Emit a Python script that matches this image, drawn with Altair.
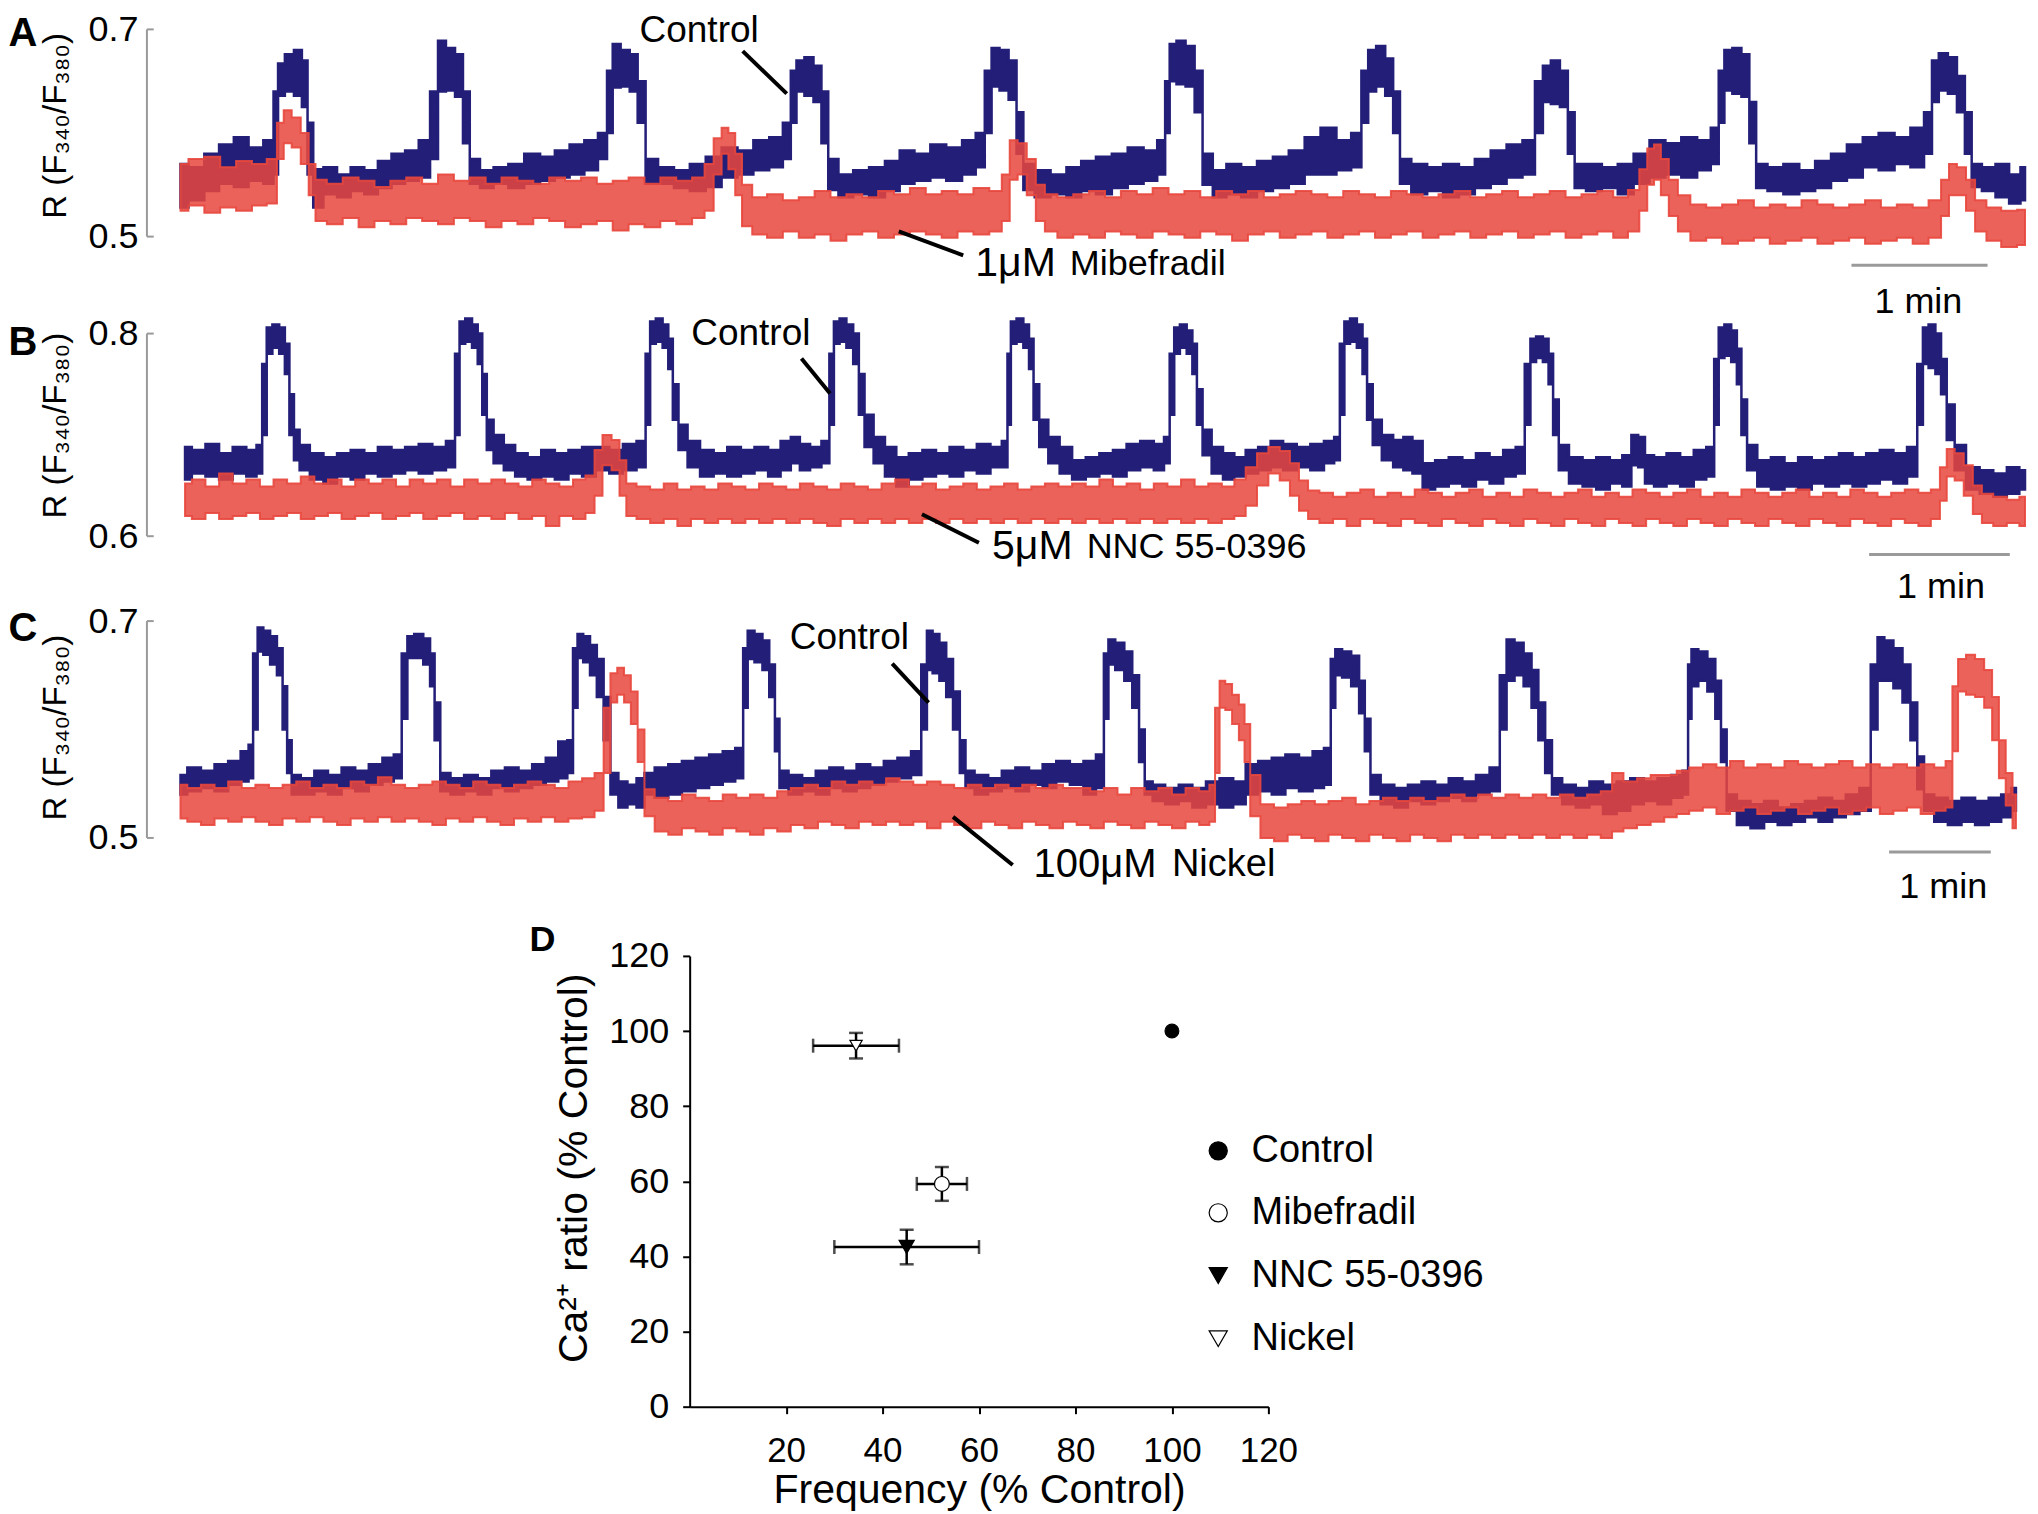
import altair as alt
import pandas as pd

FONT = "Liberation Sans"
BLUE = "#231e78"
RED = "#e8473d"
GREY = "#9a9a9a"

T_MIN, T_MAX = -14.8, 813.0
PANEL_W = 1879

# ---------------- traces: (time s, lower envelope, upper envelope) ----------------
A_BLUE = [
    (0, 0.528, 0.570), (7, 0.535, 0.567), (14, 0.544, 0.580), (20, 0.551, 0.589), (27, 0.548, 0.596),
    (33, 0.554, 0.586), (40, 0.551, 0.593), (42, 0.560, 0.640), (44, 0.636, 0.667), (48, 0.640, 0.676),
    (52, 0.636, 0.680), (55, 0.625, 0.670), (57, 0.560, 0.610), (60, 0.528, 0.565), (66, 0.541, 0.567),
    (72, 0.538, 0.560), (78, 0.544, 0.567), (84, 0.541, 0.564), (90, 0.547, 0.573), (96, 0.551, 0.580),
    (102, 0.554, 0.583), (108, 0.557, 0.593), (112, 0.575, 0.640), (115, 0.640, 0.689), (119, 0.641, 0.682),
    (123, 0.635, 0.676), (126, 0.590, 0.640), (129, 0.551, 0.575), (135, 0.547, 0.564), (141, 0.551, 0.567),
    (148, 0.547, 0.570), (155, 0.551, 0.580), (162, 0.554, 0.577), (168, 0.557, 0.583), (175, 0.560, 0.589),
    (181, 0.564, 0.593), (187, 0.575, 0.600), (189, 0.600, 0.660), (192, 0.644, 0.686), (196, 0.645, 0.680),
    (200, 0.640, 0.676), (203, 0.610, 0.650), (207, 0.551, 0.575), (214, 0.551, 0.567), (221, 0.547, 0.564),
    (228, 0.544, 0.570), (235, 0.548, 0.577), (242, 0.557, 0.586), (249, 0.560, 0.583), (256, 0.564, 0.593),
    (263, 0.567, 0.596), (268, 0.575, 0.610), (270, 0.610, 0.660), (273, 0.640, 0.670), (277, 0.636, 0.673),
    (281, 0.630, 0.665), (284, 0.590, 0.640), (287, 0.545, 0.575), (293, 0.538, 0.560), (300, 0.541, 0.564),
    (307, 0.538, 0.567), (314, 0.544, 0.573), (320, 0.551, 0.583), (327, 0.554, 0.580), (334, 0.557, 0.589),
    (341, 0.554, 0.586), (348, 0.560, 0.593), (353, 0.567, 0.600), (356, 0.600, 0.660), (359, 0.645, 0.682),
    (363, 0.641, 0.680), (367, 0.632, 0.670), (370, 0.580, 0.620), (373, 0.545, 0.570), (380, 0.538, 0.564),
    (387, 0.541, 0.560), (394, 0.538, 0.567), (400, 0.544, 0.573), (407, 0.541, 0.577), (414, 0.547, 0.580),
    (421, 0.551, 0.586), (428, 0.554, 0.583), (433, 0.560, 0.593), (435, 0.600, 0.650), (437, 0.650, 0.686),
    (441, 0.647, 0.689), (445, 0.645, 0.684), (449, 0.620, 0.660), (452, 0.550, 0.580), (458, 0.538, 0.564),
    (464, 0.541, 0.570), (471, 0.538, 0.567), (478, 0.544, 0.573), (485, 0.547, 0.577), (492, 0.551, 0.583),
    (499, 0.560, 0.596), (506, 0.560, 0.605), (513, 0.564, 0.593), (519, 0.567, 0.600), (522, 0.610, 0.660),
    (525, 0.640, 0.680), (529, 0.645, 0.684), (533, 0.636, 0.672), (536, 0.600, 0.640), (539, 0.551, 0.575),
    (546, 0.541, 0.570), (553, 0.544, 0.567), (560, 0.538, 0.570), (567, 0.541, 0.567), (574, 0.547, 0.575),
    (581, 0.551, 0.583), (588, 0.557, 0.589), (595, 0.560, 0.593), (599, 0.600, 0.650), (602, 0.630, 0.665),
    (606, 0.628, 0.670), (610, 0.625, 0.660), (613, 0.580, 0.620), (616, 0.547, 0.570), (623, 0.544, 0.570),
    (630, 0.547, 0.567), (637, 0.541, 0.570), (644, 0.551, 0.580), (651, 0.557, 0.593), (658, 0.560, 0.590),
    (665, 0.557, 0.596), (672, 0.564, 0.593), (677, 0.570, 0.605), (679, 0.610, 0.660), (682, 0.641, 0.680),
    (686, 0.638, 0.682), (690, 0.635, 0.676), (693, 0.590, 0.630), (696, 0.547, 0.570), (703, 0.544, 0.567),
    (710, 0.541, 0.570), (717, 0.544, 0.564), (724, 0.547, 0.573), (731, 0.554, 0.580), (738, 0.557, 0.589),
    (745, 0.567, 0.596), (752, 0.564, 0.600), (759, 0.570, 0.596), (766, 0.567, 0.605), (771, 0.580, 0.620),
    (773, 0.630, 0.670), (777, 0.641, 0.677), (781, 0.638, 0.673), (785, 0.620, 0.655), (788, 0.580, 0.620),
    (791, 0.548, 0.570), (797, 0.544, 0.567), (803, 0.538, 0.570), (809, 0.532, 0.560), (813, 0.535, 0.567),
]

A_RED = [
    (0, 0.525, 0.570), (7, 0.530, 0.575), (14, 0.523, 0.577), (21, 0.528, 0.567), (28, 0.525, 0.573),
    (35, 0.530, 0.570), (41, 0.532, 0.575), (44, 0.575, 0.610), (47, 0.590, 0.622), (51, 0.586, 0.615),
    (55, 0.570, 0.600), (58, 0.540, 0.570), (61, 0.515, 0.555), (68, 0.512, 0.551), (75, 0.518, 0.557),
    (82, 0.509, 0.554), (89, 0.515, 0.548), (96, 0.512, 0.554), (103, 0.518, 0.557), (110, 0.515, 0.551),
    (117, 0.512, 0.560), (124, 0.518, 0.554), (131, 0.515, 0.557), (138, 0.509, 0.551), (145, 0.515, 0.557),
    (152, 0.512, 0.554), (159, 0.518, 0.551), (166, 0.515, 0.557), (173, 0.509, 0.554), (180, 0.512, 0.557),
    (187, 0.515, 0.551), (194, 0.506, 0.554), (201, 0.512, 0.557), (208, 0.509, 0.551), (215, 0.515, 0.557),
    (222, 0.512, 0.554), (229, 0.518, 0.557), (233, 0.525, 0.570), (237, 0.560, 0.595), (240, 0.580, 0.605),
    (243, 0.565, 0.600), (246, 0.540, 0.580), (249, 0.510, 0.550), (255, 0.502, 0.538), (262, 0.499, 0.541),
    (269, 0.505, 0.535), (276, 0.499, 0.538), (283, 0.502, 0.544), (290, 0.496, 0.538), (297, 0.502, 0.541),
    (304, 0.505, 0.538), (311, 0.499, 0.544), (318, 0.502, 0.541), (325, 0.505, 0.547), (332, 0.502, 0.541),
    (339, 0.499, 0.544), (346, 0.505, 0.541), (353, 0.502, 0.547), (360, 0.505, 0.544), (364, 0.515, 0.560),
    (367, 0.555, 0.593), (371, 0.560, 0.590), (375, 0.540, 0.575), (379, 0.515, 0.550), (383, 0.505, 0.541),
    (390, 0.499, 0.538), (397, 0.502, 0.541), (404, 0.499, 0.544), (411, 0.505, 0.538), (418, 0.502, 0.544),
    (425, 0.499, 0.541), (432, 0.505, 0.547), (439, 0.502, 0.541), (446, 0.499, 0.544), (453, 0.505, 0.538),
    (460, 0.502, 0.544), (467, 0.496, 0.541), (474, 0.502, 0.544), (481, 0.505, 0.538), (488, 0.499, 0.541),
    (495, 0.502, 0.544), (502, 0.505, 0.541), (509, 0.499, 0.538), (516, 0.502, 0.544), (523, 0.505, 0.541),
    (530, 0.499, 0.538), (537, 0.502, 0.544), (544, 0.505, 0.541), (551, 0.499, 0.538), (558, 0.502, 0.541),
    (565, 0.505, 0.544), (572, 0.499, 0.538), (579, 0.502, 0.541), (586, 0.505, 0.544), (593, 0.499, 0.538),
    (600, 0.502, 0.541), (607, 0.505, 0.544), (614, 0.499, 0.538), (621, 0.502, 0.541), (628, 0.505, 0.544),
    (635, 0.499, 0.538), (641, 0.505, 0.545), (645, 0.525, 0.565), (648, 0.550, 0.585), (651, 0.555, 0.589),
    (654, 0.540, 0.575), (658, 0.520, 0.555), (662, 0.505, 0.540), (669, 0.496, 0.531), (676, 0.499, 0.528),
    (683, 0.493, 0.531), (690, 0.496, 0.535), (697, 0.499, 0.528), (704, 0.493, 0.531), (711, 0.496, 0.528),
    (718, 0.499, 0.535), (725, 0.493, 0.531), (732, 0.496, 0.528), (739, 0.499, 0.531), (746, 0.493, 0.535),
    (753, 0.496, 0.528), (760, 0.499, 0.531), (767, 0.493, 0.528), (774, 0.499, 0.535), (778, 0.520, 0.555),
    (781, 0.540, 0.570), (785, 0.540, 0.567), (789, 0.525, 0.555), (793, 0.505, 0.535), (799, 0.496, 0.528),
    (806, 0.490, 0.525), (813, 0.492, 0.526),
]

B_BLUE = [
    (2, 0.656, 0.688), (8, 0.662, 0.685), (14, 0.659, 0.691), (20, 0.656, 0.682), (26, 0.662, 0.688),
    (32, 0.659, 0.685), (35, 0.662, 0.690), (37, 0.700, 0.770), (39, 0.780, 0.806), (42, 0.786, 0.809),
    (45, 0.780, 0.806), (47, 0.760, 0.790), (49, 0.700, 0.740), (51, 0.675, 0.705), (54, 0.665, 0.690),
    (60, 0.656, 0.682), (66, 0.652, 0.678), (72, 0.659, 0.682), (78, 0.656, 0.685), (84, 0.662, 0.682),
    (90, 0.659, 0.688), (96, 0.662, 0.685), (102, 0.665, 0.688), (108, 0.662, 0.691), (114, 0.665, 0.688),
    (120, 0.668, 0.694), (122, 0.700, 0.780), (124, 0.790, 0.812), (127, 0.792, 0.815), (130, 0.786, 0.809),
    (132, 0.770, 0.800), (134, 0.720, 0.760), (136, 0.685, 0.715), (140, 0.672, 0.700), (145, 0.665, 0.690),
    (150, 0.659, 0.682), (156, 0.656, 0.678), (162, 0.659, 0.685), (168, 0.656, 0.682), (174, 0.662, 0.685),
    (180, 0.659, 0.688), (186, 0.665, 0.688), (192, 0.662, 0.685), (198, 0.665, 0.691), (204, 0.668, 0.694),
    (206, 0.710, 0.780), (208, 0.790, 0.812), (211, 0.792, 0.815), (214, 0.786, 0.809), (216, 0.765, 0.795),
    (218, 0.715, 0.750), (221, 0.685, 0.710), (226, 0.668, 0.694), (232, 0.659, 0.685), (238, 0.662, 0.682),
    (244, 0.659, 0.688), (250, 0.662, 0.685), (256, 0.665, 0.688), (262, 0.659, 0.685), (267, 0.665, 0.694),
    (271, 0.672, 0.698), (275, 0.665, 0.691), (280, 0.668, 0.688), (285, 0.672, 0.694), (287, 0.710, 0.780),
    (289, 0.790, 0.812), (292, 0.792, 0.815), (295, 0.786, 0.809), (298, 0.770, 0.800), (300, 0.720, 0.760),
    (303, 0.688, 0.720), (308, 0.672, 0.698), (313, 0.659, 0.688), (318, 0.649, 0.678), (324, 0.656, 0.682),
    (330, 0.659, 0.685), (336, 0.662, 0.682), (342, 0.659, 0.688), (348, 0.665, 0.685), (354, 0.662, 0.691),
    (360, 0.668, 0.688), (364, 0.668, 0.694), (365, 0.710, 0.780), (367, 0.790, 0.812), (370, 0.792, 0.815),
    (373, 0.786, 0.809), (375, 0.765, 0.795), (377, 0.715, 0.750), (380, 0.688, 0.715), (385, 0.672, 0.698),
    (390, 0.662, 0.688), (396, 0.656, 0.675), (402, 0.659, 0.678), (408, 0.662, 0.682), (414, 0.659, 0.685),
    (420, 0.665, 0.691), (426, 0.668, 0.694), (432, 0.665, 0.691), (435, 0.672, 0.698), (437, 0.720, 0.780),
    (439, 0.780, 0.806), (442, 0.786, 0.809), (445, 0.780, 0.803), (447, 0.760, 0.790), (449, 0.710, 0.745),
    (452, 0.680, 0.705), (457, 0.662, 0.688), (462, 0.656, 0.682), (467, 0.659, 0.678), (472, 0.662, 0.685),
    (478, 0.665, 0.688), (483, 0.668, 0.694), (489, 0.665, 0.691), (495, 0.668, 0.688), (501, 0.665, 0.691),
    (507, 0.672, 0.694), (510, 0.675, 0.698), (512, 0.720, 0.790), (514, 0.790, 0.812), (517, 0.792, 0.815),
    (520, 0.786, 0.809), (522, 0.760, 0.795), (524, 0.715, 0.750), (527, 0.690, 0.715), (532, 0.675, 0.700),
    (537, 0.668, 0.695), (541, 0.665, 0.698), (545, 0.662, 0.694), (550, 0.646, 0.672), (556, 0.649, 0.675),
    (562, 0.652, 0.678), (568, 0.649, 0.675), (574, 0.656, 0.682), (580, 0.652, 0.678), (586, 0.659, 0.685),
    (591, 0.662, 0.688), (594, 0.710, 0.770), (596, 0.772, 0.795), (599, 0.776, 0.797), (602, 0.772, 0.795),
    (604, 0.750, 0.780), (606, 0.700, 0.735), (609, 0.665, 0.690), (615, 0.652, 0.678), (621, 0.649, 0.675),
    (627, 0.646, 0.678), (633, 0.652, 0.675), (638, 0.649, 0.680), (641, 0.670, 0.700), (644, 0.668, 0.698),
    (647, 0.652, 0.680), (652, 0.649, 0.678), (658, 0.652, 0.682), (664, 0.649, 0.678), (670, 0.656, 0.685),
    (675, 0.659, 0.688), (677, 0.710, 0.775), (679, 0.776, 0.806), (682, 0.778, 0.809), (685, 0.772, 0.803),
    (687, 0.750, 0.785), (689, 0.700, 0.735), (692, 0.665, 0.690), (698, 0.649, 0.675), (704, 0.646, 0.678),
    (710, 0.649, 0.672), (716, 0.646, 0.678), (722, 0.652, 0.675), (728, 0.649, 0.678), (734, 0.652, 0.682),
    (740, 0.649, 0.678), (746, 0.652, 0.682), (752, 0.656, 0.685), (758, 0.652, 0.682), (764, 0.659, 0.688),
    (767, 0.710, 0.770), (769, 0.770, 0.806), (772, 0.766, 0.809), (775, 0.760, 0.800), (777, 0.740, 0.775),
    (780, 0.695, 0.730), (784, 0.665, 0.690), (790, 0.646, 0.668), (796, 0.642, 0.665), (802, 0.639, 0.662),
    (808, 0.642, 0.668), (813, 0.646, 0.665),
]

B_RED = [
    (2, 0.620, 0.652), (8, 0.617, 0.656), (14, 0.623, 0.649), (20, 0.617, 0.662), (26, 0.620, 0.652),
    (32, 0.623, 0.656), (38, 0.617, 0.649), (44, 0.620, 0.656), (50, 0.623, 0.652), (56, 0.617, 0.659),
    (62, 0.620, 0.652), (68, 0.623, 0.656), (74, 0.617, 0.649), (80, 0.620, 0.656), (86, 0.623, 0.652),
    (92, 0.617, 0.656), (98, 0.620, 0.649), (104, 0.623, 0.656), (110, 0.617, 0.652), (116, 0.620, 0.656),
    (122, 0.623, 0.649), (128, 0.617, 0.656), (134, 0.620, 0.652), (140, 0.617, 0.656), (146, 0.623, 0.652),
    (152, 0.617, 0.649), (158, 0.620, 0.656), (164, 0.610, 0.652), (170, 0.620, 0.649), (176, 0.617, 0.656),
    (181, 0.623, 0.660), (184, 0.640, 0.685), (188, 0.670, 0.700), (192, 0.665, 0.695), (195, 0.640, 0.675),
    (198, 0.620, 0.652), (204, 0.617, 0.649), (210, 0.613, 0.646), (216, 0.617, 0.652), (222, 0.610, 0.646),
    (228, 0.617, 0.649), (234, 0.613, 0.646), (240, 0.617, 0.652), (246, 0.613, 0.649), (252, 0.617, 0.646),
    (258, 0.613, 0.652), (264, 0.617, 0.649), (270, 0.613, 0.646), (276, 0.617, 0.652), (282, 0.613, 0.649),
    (288, 0.610, 0.646), (294, 0.617, 0.652), (300, 0.613, 0.649), (306, 0.617, 0.646), (312, 0.613, 0.652),
    (318, 0.617, 0.656), (324, 0.613, 0.649), (330, 0.617, 0.652), (336, 0.613, 0.646), (342, 0.617, 0.649),
    (348, 0.613, 0.652), (354, 0.617, 0.646), (360, 0.613, 0.649), (366, 0.617, 0.652), (372, 0.613, 0.646),
    (378, 0.617, 0.649), (384, 0.613, 0.652), (390, 0.617, 0.649), (396, 0.613, 0.652), (402, 0.617, 0.649),
    (408, 0.613, 0.656), (414, 0.617, 0.649), (420, 0.613, 0.652), (426, 0.617, 0.646), (432, 0.613, 0.652),
    (438, 0.617, 0.649), (444, 0.613, 0.656), (450, 0.617, 0.649), (456, 0.613, 0.652), (462, 0.617, 0.649),
    (467, 0.620, 0.656), (472, 0.630, 0.668), (477, 0.650, 0.682), (482, 0.662, 0.688), (487, 0.655, 0.684),
    (491, 0.640, 0.672), (495, 0.625, 0.655), (499, 0.617, 0.645), (505, 0.613, 0.643), (511, 0.617, 0.639),
    (517, 0.610, 0.643), (523, 0.617, 0.646), (529, 0.613, 0.639), (535, 0.610, 0.643), (541, 0.617, 0.639),
    (547, 0.613, 0.646), (553, 0.610, 0.643), (559, 0.617, 0.639), (565, 0.613, 0.643), (571, 0.610, 0.646),
    (577, 0.617, 0.639), (583, 0.613, 0.643), (589, 0.610, 0.639), (595, 0.617, 0.646), (601, 0.613, 0.643),
    (607, 0.610, 0.639), (613, 0.617, 0.643), (619, 0.613, 0.646), (625, 0.610, 0.639), (631, 0.617, 0.643),
    (637, 0.613, 0.639), (643, 0.610, 0.646), (649, 0.617, 0.643), (655, 0.613, 0.639), (661, 0.610, 0.643),
    (667, 0.617, 0.646), (673, 0.613, 0.639), (679, 0.610, 0.643), (685, 0.617, 0.639), (691, 0.613, 0.646),
    (697, 0.610, 0.643), (703, 0.617, 0.639), (709, 0.613, 0.643), (715, 0.610, 0.646), (721, 0.617, 0.639),
    (727, 0.613, 0.643), (733, 0.610, 0.639), (739, 0.617, 0.646), (745, 0.613, 0.643), (751, 0.610, 0.639),
    (757, 0.617, 0.643), (763, 0.613, 0.646), (769, 0.610, 0.643), (774, 0.617, 0.646), (777, 0.635, 0.668),
    (780, 0.659, 0.686), (784, 0.655, 0.682), (788, 0.640, 0.670), (792, 0.622, 0.650), (796, 0.613, 0.642),
    (802, 0.610, 0.639), (808, 0.613, 0.636), (813, 0.610, 0.639),
]

C_BLUE = [
    (0, 0.540, 0.558), (6, 0.543, 0.565), (12, 0.546, 0.562), (18, 0.543, 0.568), (24, 0.549, 0.571),
    (29, 0.552, 0.580), (31, 0.555, 0.586), (33, 0.600, 0.670), (35, 0.672, 0.694), (38, 0.669, 0.691),
    (41, 0.660, 0.686), (44, 0.650, 0.675), (46, 0.600, 0.640), (48, 0.560, 0.590), (50, 0.540, 0.558),
    (56, 0.540, 0.555), (62, 0.543, 0.562), (68, 0.540, 0.558), (74, 0.546, 0.565), (80, 0.543, 0.562),
    (86, 0.549, 0.568), (92, 0.552, 0.574), (96, 0.555, 0.577), (99, 0.610, 0.670), (101, 0.666, 0.686),
    (105, 0.666, 0.688), (109, 0.660, 0.684), (111, 0.640, 0.670), (113, 0.590, 0.625), (116, 0.543, 0.560),
    (122, 0.540, 0.555), (128, 0.543, 0.558), (134, 0.540, 0.555), (140, 0.546, 0.562), (146, 0.543, 0.565),
    (152, 0.546, 0.562), (158, 0.549, 0.568), (164, 0.552, 0.574), (169, 0.555, 0.589), (172, 0.560, 0.590),
    (174, 0.620, 0.675), (176, 0.666, 0.688), (179, 0.662, 0.686), (182, 0.650, 0.678), (185, 0.630, 0.665),
    (188, 0.590, 0.630), (191, 0.540, 0.560), (195, 0.528, 0.552), (199, 0.531, 0.549), (203, 0.528, 0.555),
    (206, 0.540, 0.560), (212, 0.537, 0.565), (218, 0.540, 0.568), (224, 0.543, 0.571), (230, 0.546, 0.574),
    (236, 0.549, 0.577), (242, 0.552, 0.580), (247, 0.555, 0.583), (249, 0.620, 0.675), (251, 0.665, 0.691),
    (255, 0.662, 0.688), (258, 0.655, 0.682), (261, 0.630, 0.660), (263, 0.580, 0.610), (265, 0.546, 0.562),
    (271, 0.540, 0.558), (277, 0.543, 0.555), (283, 0.540, 0.562), (289, 0.546, 0.565), (295, 0.543, 0.562),
    (301, 0.546, 0.568), (307, 0.549, 0.565), (313, 0.552, 0.571), (319, 0.555, 0.574), (325, 0.558, 0.580),
    (328, 0.600, 0.660), (330, 0.655, 0.691), (333, 0.652, 0.688), (336, 0.645, 0.680), (339, 0.630, 0.665),
    (342, 0.600, 0.635), (345, 0.560, 0.590), (347, 0.546, 0.562), (353, 0.540, 0.558), (359, 0.543, 0.555),
    (365, 0.546, 0.562), (371, 0.543, 0.565), (377, 0.549, 0.562), (383, 0.546, 0.568), (389, 0.552, 0.571),
    (395, 0.549, 0.568), (401, 0.540, 0.571), (406, 0.546, 0.577), (408, 0.610, 0.670), (410, 0.660, 0.683),
    (414, 0.655, 0.680), (418, 0.645, 0.672), (421, 0.620, 0.650), (424, 0.570, 0.600), (426, 0.540, 0.552),
    (431, 0.534, 0.549), (437, 0.531, 0.546), (443, 0.534, 0.549), (449, 0.528, 0.546), (455, 0.531, 0.552),
    (461, 0.528, 0.555), (467, 0.531, 0.552), (472, 0.540, 0.568), (478, 0.543, 0.571), (484, 0.540, 0.574),
    (490, 0.546, 0.577), (496, 0.543, 0.574), (502, 0.546, 0.580), (506, 0.549, 0.583), (508, 0.620, 0.665),
    (510, 0.650, 0.674), (514, 0.648, 0.672), (518, 0.640, 0.668), (521, 0.615, 0.645), (523, 0.580, 0.610),
    (526, 0.540, 0.558), (532, 0.531, 0.549), (538, 0.528, 0.546), (544, 0.534, 0.549), (550, 0.531, 0.552),
    (556, 0.534, 0.549), (562, 0.537, 0.555), (568, 0.534, 0.552), (574, 0.540, 0.558), (580, 0.543, 0.565),
    (583, 0.600, 0.650), (586, 0.645, 0.683), (590, 0.650, 0.680), (594, 0.640, 0.670), (597, 0.620, 0.655),
    (600, 0.590, 0.625), (603, 0.560, 0.590), (606, 0.540, 0.555), (612, 0.531, 0.549), (618, 0.528, 0.546),
    (624, 0.531, 0.552), (630, 0.522, 0.549), (636, 0.525, 0.552), (642, 0.531, 0.555), (648, 0.534, 0.552),
    (654, 0.531, 0.555), (660, 0.537, 0.558), (664, 0.540, 0.562), (665, 0.610, 0.660), (667, 0.640, 0.674),
    (671, 0.645, 0.672), (675, 0.635, 0.665), (678, 0.610, 0.645), (680, 0.570, 0.600), (683, 0.525, 0.540),
    (689, 0.512, 0.534), (695, 0.509, 0.531), (701, 0.515, 0.534), (707, 0.512, 0.528), (713, 0.515, 0.531),
    (719, 0.519, 0.534), (725, 0.515, 0.537), (731, 0.519, 0.534), (737, 0.522, 0.540), (743, 0.525, 0.546),
    (747, 0.600, 0.660), (749, 0.645, 0.685), (753, 0.645, 0.682), (757, 0.638, 0.675), (761, 0.625, 0.660),
    (764, 0.590, 0.625), (767, 0.545, 0.575), (770, 0.525, 0.540), (776, 0.515, 0.537), (782, 0.512, 0.534),
    (788, 0.515, 0.537), (794, 0.512, 0.534), (800, 0.515, 0.537), (805, 0.519, 0.540), (809, 0.525, 0.546),
]

C_RED = [
    (0, 0.518, 0.549), (6, 0.515, 0.546), (12, 0.512, 0.549), (18, 0.518, 0.546), (24, 0.515, 0.552),
    (30, 0.519, 0.546), (36, 0.515, 0.549), (42, 0.512, 0.546), (48, 0.518, 0.549), (54, 0.515, 0.552),
    (60, 0.519, 0.546), (66, 0.515, 0.549), (72, 0.512, 0.546), (78, 0.518, 0.552), (84, 0.515, 0.549),
    (90, 0.519, 0.556), (96, 0.515, 0.549), (102, 0.518, 0.546), (108, 0.515, 0.549), (114, 0.512, 0.552),
    (120, 0.518, 0.549), (126, 0.515, 0.546), (132, 0.519, 0.552), (138, 0.515, 0.549), (144, 0.512, 0.546),
    (150, 0.518, 0.549), (156, 0.515, 0.552), (162, 0.519, 0.549), (168, 0.515, 0.546), (174, 0.518, 0.552),
    (180, 0.519, 0.555), (185, 0.525, 0.560), (188, 0.560, 0.620), (191, 0.625, 0.652), (194, 0.632, 0.657),
    (197, 0.625, 0.650), (200, 0.605, 0.635), (203, 0.570, 0.600), (206, 0.520, 0.545), (212, 0.506, 0.537),
    (218, 0.503, 0.534), (224, 0.509, 0.540), (230, 0.506, 0.537), (236, 0.503, 0.534), (242, 0.509, 0.540),
    (248, 0.506, 0.537), (254, 0.503, 0.540), (260, 0.509, 0.537), (266, 0.506, 0.543), (272, 0.512, 0.546),
    (278, 0.509, 0.549), (284, 0.515, 0.546), (290, 0.512, 0.552), (296, 0.509, 0.549), (302, 0.515, 0.552),
    (308, 0.512, 0.549), (314, 0.515, 0.555), (320, 0.512, 0.552), (326, 0.515, 0.549), (332, 0.509, 0.552),
    (338, 0.515, 0.549), (344, 0.512, 0.546), (350, 0.509, 0.549), (356, 0.515, 0.546), (362, 0.512, 0.549),
    (368, 0.509, 0.546), (374, 0.515, 0.549), (380, 0.512, 0.546), (386, 0.509, 0.549), (392, 0.515, 0.546),
    (398, 0.512, 0.546), (404, 0.509, 0.543), (410, 0.515, 0.546), (416, 0.512, 0.540), (422, 0.509, 0.546),
    (428, 0.515, 0.543), (434, 0.512, 0.546), (440, 0.509, 0.540), (446, 0.515, 0.546), (452, 0.512, 0.543),
    (455, 0.515, 0.549), (457, 0.560, 0.620), (459, 0.620, 0.645), (462, 0.618, 0.642), (465, 0.605, 0.632),
    (468, 0.590, 0.623), (470, 0.570, 0.605), (473, 0.520, 0.558), (479, 0.500, 0.531), (485, 0.497, 0.528),
    (491, 0.503, 0.531), (497, 0.500, 0.534), (503, 0.497, 0.531), (509, 0.503, 0.534), (515, 0.500, 0.537),
    (521, 0.497, 0.531), (527, 0.503, 0.534), (533, 0.500, 0.537), (539, 0.497, 0.534), (545, 0.503, 0.537),
    (551, 0.500, 0.534), (557, 0.497, 0.537), (563, 0.503, 0.540), (569, 0.500, 0.537), (575, 0.503, 0.540),
    (581, 0.500, 0.537), (587, 0.503, 0.540), (593, 0.500, 0.537), (599, 0.503, 0.540), (605, 0.500, 0.537),
    (611, 0.503, 0.540), (617, 0.500, 0.537), (623, 0.503, 0.540), (629, 0.500, 0.543), (633, 0.506, 0.560),
    (639, 0.509, 0.552), (645, 0.512, 0.555), (651, 0.515, 0.558), (657, 0.519, 0.558), (662, 0.522, 0.562),
    (668, 0.525, 0.565), (674, 0.528, 0.568), (680, 0.522, 0.565), (686, 0.525, 0.571), (692, 0.528, 0.565),
    (698, 0.522, 0.568), (704, 0.525, 0.565), (710, 0.528, 0.571), (716, 0.522, 0.568), (722, 0.525, 0.565),
    (728, 0.528, 0.568), (734, 0.522, 0.571), (740, 0.525, 0.565), (746, 0.528, 0.568), (752, 0.522, 0.565),
    (758, 0.525, 0.568), (764, 0.528, 0.565), (770, 0.522, 0.568), (776, 0.525, 0.565), (780, 0.528, 0.571),
    (782, 0.580, 0.640), (785, 0.635, 0.665), (789, 0.632, 0.669), (793, 0.630, 0.665), (797, 0.620, 0.655),
    (800, 0.590, 0.630), (803, 0.555, 0.590), (806, 0.530, 0.560), (809, 0.509, 0.540),
]

# ---------------- annotations ----------------
# segments: (t1, v1, t2, v2)
A_LINES = [(247.8, 0.679, 267.2, 0.638), (316.6, 0.505, 345.0, 0.482)]
B_LINES = [(273.7, 0.7754, 286.3, 0.7409), (326.8, 0.6217, 351.9, 0.5935)]
C_LINES = [(313.7, 0.6608, 329.7, 0.6249), (340.5, 0.5194, 366.8, 0.4751)]
A_BAR = (736.5, 796.5, 0.4723)
B_BAR = (744.3, 806.3, 0.582)
C_BAR = (753.1, 797.9, 0.4871)

# (text, t, v, fontsize)
A_TXT_C = [("Control", 228.6, 0.6985, 37), ("1 min", 766.0, 0.437, 36)]
A_TXT_L = [("1μM", 350.3, 0.4736, 41), ("Mibefradil", 392.0, 0.4736, 36)]
B_TXT_C = [("Control", 251.4, 0.800, 37), ("1 min", 776.0, 0.5498, 36)]
B_TXT_L = [("5μM", 357.7, 0.5897, 41), ("NNC 55-0396", 399.4, 0.5897, 36)]
C_TXT_C = [("Control", 294.8, 0.6848, 37), ("1 min", 777.0, 0.4548, 36)]
C_TXT_L = [("100μM", 376.0, 0.475, 40), ("Nickel", 437.0, 0.475, 38)]
A_LETTER = ("A", -69.4, 0.6955)
B_LETTER = ("B", -69.4, 0.791)
C_LETTER = ("C", -69.4, 0.6926)

# ---------------- panel D ----------------
D_NAMES = ["Control", "Mibefradil", "NNC 55-0396", "Nickel"]
D_FREQ = [100.0, 52.3, 45.0, 34.5]
D_FREQ_ERR = [0.0, 5.2, 15.0, 8.9]
D_CA = [100.0, 59.3, 42.5, 96.1]
D_CA_ERR = [0.0, 4.5, 4.6, 3.4]
D_SHAPES = ["circle", "circle", "triangle-down", "triangle-down"]
D_FILLS = ["black", "white", "black", "white"]
D_SIZES = [190, 220, 230, 150]
LEG_Y = [68.1, 51.6, 34.9, 18.1]
LEG_SYM_X = 109.6
LEG_TXT_X = 116.5


def trace_df(rows):
    return pd.DataFrame(rows, columns=["t", "lo", "hi"])


def trace_panel(blue, red, ydom, height, yticks, title_y, lines, bar, txt_c, txt_l, letter):
    xs = alt.Scale(domain=[T_MIN, T_MAX], nice=False, zero=False)
    ys = alt.Scale(domain=ydom, nice=False, zero=False)
    yax = alt.Axis(values=yticks, format=".1f", domain=False, ticks=False, grid=False,
                   labelFontSize=36, labelPadding=9, labelColor="black", labelFont=FONT,
                   title="R (F₃₄₀/F₃₈₀)", titleFontSize=33, titleFontWeight="normal",
                   titleColor="black", titleFont=FONT, titlePadding=15, titleY=title_y)

    def X(f):
        return alt.X(f, type="quantitative", scale=xs, axis=None)

    def Y(f):
        return alt.Y(f, type="quantitative", scale=ys, axis=yax)

    blue_l = alt.Chart(trace_df(blue)).mark_area(
        color=BLUE, stroke=BLUE, strokeWidth=2.5, interpolate="step", opacity=1).encode(
        x=X("t"), y=Y("lo"), y2=alt.Y2("hi"))
    red_l = alt.Chart(trace_df(red)).mark_area(
        color=RED, stroke=RED, strokeWidth=2, interpolate="step", fillOpacity=0.85, strokeOpacity=0.9).encode(
        x=X("t"), y=Y("lo"), y2=alt.Y2("hi"))

    lo_t, hi_t = yticks
    bracket = pd.DataFrame([
        (T_MIN, lo_t, T_MIN, hi_t),
        (T_MIN, lo_t, T_MIN + 3.0, lo_t),
        (T_MIN, hi_t, T_MIN + 3.0, hi_t),
    ], columns=["x1", "y1", "x2", "y2"])
    bracket_l = alt.Chart(bracket).mark_rule(color=GREY, strokeWidth=2).encode(
        x=X("x1"), y=Y("y1"), x2=alt.X2("x2"), y2=alt.Y2("y2"))

    seg = pd.DataFrame(lines, columns=["x1", "y1", "x2", "y2"])
    seg_l = alt.Chart(seg).mark_rule(color="black", strokeWidth=4).encode(
        x=X("x1"), y=Y("y1"), x2=alt.X2("x2"), y2=alt.Y2("y2"))

    bar_df = pd.DataFrame([(bar[0], bar[2], bar[1], bar[2])], columns=["x1", "y1", "x2", "y2"])
    bar_l = alt.Chart(bar_df).mark_rule(color=GREY, strokeWidth=3).encode(
        x=X("x1"), y=Y("y1"), x2=alt.X2("x2"), y2=alt.Y2("y2"))

    tc = pd.DataFrame(txt_c, columns=["label", "t", "v", "fs"])
    tc_l = alt.Chart(tc).mark_text(align="center", baseline="middle", color="black", font=FONT).encode(
        x=X("t"), y=Y("v"), text="label:N", size=alt.Size("fs:Q", scale=None, legend=None))
    tl = pd.DataFrame(txt_l, columns=["label", "t", "v", "fs"])
    tl_l = alt.Chart(tl).mark_text(align="left", baseline="middle", color="black", font=FONT).encode(
        x=X("t"), y=Y("v"), text="label:N", size=alt.Size("fs:Q", scale=None, legend=None))
    let = pd.DataFrame([letter], columns=["label", "t", "v"])
    let_l = alt.Chart(let).mark_text(align="center", baseline="middle", color="black", font=FONT,
                                     fontSize=40, fontWeight="bold").encode(
        x=X("t"), y=Y("v"), text="label:N")

    return alt.layer(blue_l, red_l, bracket_l, seg_l, bar_l, tc_l, tl_l, let_l).properties(
        width=PANEL_W, height=height)


pA = trace_panel(A_BLUE, A_RED, [0.455, 0.7174], 272, [0.5, 0.7], 114, A_LINES, A_BAR, A_TXT_C, A_TXT_L, A_LETTER)
pB = trace_panel(B_BLUE, B_RED, [0.5695, 0.8497], 284, [0.6, 0.8], 142, B_LINES, B_BAR, B_TXT_C, B_TXT_L, B_LETTER)
pC = trace_panel(C_BLUE, C_RED, [0.3912, 0.7498], 389, [0.5, 0.7], 160, C_LINES, C_BAR, C_TXT_C, C_TXT_L, C_LETTER)

# ---- panel D ----
dxs = alt.Scale(domain=[0, 120], nice=False, zero=False)
dys = alt.Scale(domain=[0, 120], nice=False, zero=False)
dxax = alt.Axis(values=[20, 40, 60, 80, 100, 120], grid=False, domainColor="black", domainWidth=2,
                tickColor="black", tickWidth=2, tickSize=7, labelFontSize=35, labelPadding=20,
                labelColor="black", labelFont=FONT, labelFlush=False, labelOverlap=False,
                title="Frequency (% Control)", titleFontSize=41,
                titleFontWeight="normal", titleColor="black", titleFont=FONT, titlePadding=2)
dyax = alt.Axis(values=[0, 20, 40, 60, 80, 100, 120], grid=False, domainColor="black", domainWidth=2,
                tickColor="black", tickWidth=2, tickSize=7, labelFontSize=36, labelPadding=14,
                labelColor="black", labelFont=FONT, labelFlush=False, labelOverlap=False,
                title="Ca²⁺ ratio (% Control)", titleFontSize=41,
                titleFontWeight="normal", titleColor="black", titleFont=FONT, titlePadding=13, titleY=212)


def DX(f):
    return alt.X(f, type="quantitative", scale=dxs, axis=dxax)


def DY(f):
    return alt.Y(f, type="quantitative", scale=dys, axis=dyax)


dpts = pd.DataFrame({"name": D_NAMES, "freq": D_FREQ, "ca": D_CA, "shape": D_SHAPES,
                     "fill": D_FILLS, "size": D_SIZES})
err_rows = [(n, f, fe, c, ce) for n, f, fe, c, ce in zip(D_NAMES, D_FREQ, D_FREQ_ERR, D_CA, D_CA_ERR) if fe > 0]
derr = pd.DataFrame(err_rows, columns=["name", "freq", "fe", "ca", "ce"])
derr["xlo"] = derr["freq"] - derr["fe"]
derr["xhi"] = derr["freq"] + derr["fe"]
derr["ylo"] = derr["ca"] - derr["ce"]
derr["yhi"] = derr["ca"] + derr["ce"]
hcaps = pd.concat([derr[["xlo", "ca"]].rename(columns={"xlo": "x", "ca": "y"}),
                   derr[["xhi", "ca"]].rename(columns={"xhi": "x", "ca": "y"})])
vcaps = pd.concat([derr[["freq", "ylo"]].rename(columns={"freq": "x", "ylo": "y"}),
                   derr[["freq", "yhi"]].rename(columns={"freq": "x", "yhi": "y"})])

hbar = alt.Chart(derr).mark_rule(color="black", strokeWidth=2.5).encode(
    x=DX("xlo"), x2=alt.X2("xhi"), y=DY("ca"))
vbar = alt.Chart(derr).mark_rule(color="black", strokeWidth=2.5).encode(
    x=DX("freq"), y=DY("ylo"), y2=alt.Y2("yhi"))
hcap = alt.Chart(hcaps).mark_tick(color="black", orient="vertical", size=14, thickness=2.5).encode(
    x=DX("x"), y=DY("y"))
vcap = alt.Chart(vcaps).mark_tick(color="black", orient="horizontal", size=14, thickness=2.5).encode(
    x=DX("x"), y=DY("y"))
pts = alt.Chart(dpts).mark_point(filled=True, stroke="black", strokeWidth=1.2, opacity=1).encode(
    x=DX("freq"), y=DY("ca"), shape=alt.Shape("shape:N", scale=None, legend=None),
    fill=alt.Fill("fill:N", scale=None, legend=None), size=alt.Size("size:Q", scale=None, legend=None))

leg = pd.DataFrame({"name": D_NAMES, "y": LEG_Y, "shape": D_SHAPES, "fill": D_FILLS})
leg["x"] = LEG_SYM_X
leg["tx"] = LEG_TXT_X
leg_sym = alt.Chart(leg).mark_point(filled=True, stroke="black", strokeWidth=1.2, opacity=1, size=330).encode(
    x=DX("x"), y=DY("y"), shape=alt.Shape("shape:N", scale=None, legend=None),
    fill=alt.Fill("fill:N", scale=None, legend=None))
leg_txt = alt.Chart(leg).mark_text(align="left", baseline="middle", fontSize=38, color="black", font=FONT).encode(
    x=DX("tx"), y=DY("y"), text="name:N")
dlet = alt.Chart(pd.DataFrame({"label": ["D"], "x": [-30.5], "y": [124.3]})).mark_text(
    align="center", baseline="middle", fontSize=36, fontWeight="bold", color="black", font=FONT).encode(
    x=DX("x"), y=DY("y"), text="label:N")

pD = alt.layer(hbar, vbar, hcap, vcap, pts, leg_sym, leg_txt, dlet).properties(width=579, height=451)

spacer = alt.Chart(pd.DataFrame({"a": [0]})).mark_point(opacity=0).encode(
    x=alt.X("a:Q", axis=None), y=alt.Y("a:Q", axis=None)).properties(width=543, height=451)

row_d = alt.hconcat(spacer, pD, spacing=0, bounds="flush")

chart = alt.vconcat(pA, pB, pC, row_d, spacing=0, bounds="flush").properties(
    padding={"left": 0, "top": 3, "right": 0, "bottom": 0}, background="white"
).configure(font=FONT).configure_view(strokeWidth=0)

chart.save("out.html", embed_options={"renderer": "svg", "actions": False})
